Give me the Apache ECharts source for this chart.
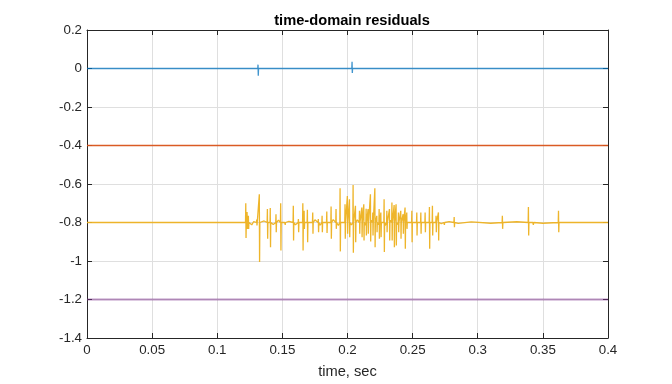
<!DOCTYPE html>
<html>
<head>
<meta charset="utf-8">
<script src="https://cdn.jsdelivr.net/npm/echarts@6/dist/echarts.min.js"></script>
<style>html,body{margin:0;padding:0;background:#fff}#c{width:672px;height:384px}</style>
</head>
<body>
<div id="c"></div>
<script>
// ---- data ----
var xTicks = [0, 0.05, 0.1, 0.15, 0.2, 0.25, 0.3, 0.35, 0.4];
var yTicks = [-1.4, -1.2, -1, -0.8, -0.6, -0.4, -0.2, 0, 0.2];
var offsets = [0, -0.4, -0.8, -1.2]; // baseline of each residual trace

// blue trace spikes (time, high, low)
var blueT  = [0.1313, 0.2035];
var blueHi = [0.020, 0.035];
var blueLo = [-0.037, -0.023];

// yellow trace spikes (time, high, low)
var yelT = [0.1219,0.1229,0.1239,0.1303,0.1323,0.1385,0.1407,0.1451,0.1487,0.1520,
            0.1584,0.1623,0.1657,0.1667,0.1692,0.1733,0.1776,0.1805,0.1841,0.1874,
            0.1912,0.1943,0.1981,0.1999,0.2015,0.2043,0.2061,0.2092,0.2110,0.2125,
            0.2143,0.2158,0.2176,0.2194,0.2210,0.2225,0.2243,0.2256,0.2281,0.2302,
            0.2322,0.2341,0.2358,0.2373,0.2391,0.2409,0.2427,0.2442,0.2455,0.2494,
            0.2532,0.2563,0.2596,0.2629,0.2652,0.2680,0.2698,0.2742,0.2819,0.3189,
            0.3389,0.3425,0.3620];
var yelHi = [-0.700,-0.746,-0.765,-0.785,-0.653,-0.730,-0.725,-0.757,-0.700,-0.790,
             -0.713,-0.782,-0.700,-0.739,-0.734,-0.748,-0.782,-0.765,-0.743,-0.717,
             -0.730,-0.622,-0.705,-0.662,-0.679,-0.605,-0.713,-0.739,-0.722,-0.705,
             -0.728,-0.730,-0.653,-0.748,-0.622,-0.765,-0.730,-0.748,-0.679,-0.739,
             -0.730,-0.696,-0.709,-0.705,-0.748,-0.739,-0.757,-0.722,-0.748,-0.739,
             -0.748,-0.748,-0.748,-0.720,-0.713,-0.765,-0.748,-0.790,-0.772,-0.765,
             -0.720,-0.790,-0.739];
var yelLo = [-0.881,-0.833,-0.833,-0.815,-1.005,-0.885,-0.928,-0.851,-0.945,-0.812,
             -0.893,-0.851,-0.945,-0.833,-0.902,-0.859,-0.851,-0.851,-0.854,-0.885,
             -0.833,-0.950,-0.885,-0.859,-0.876,-0.957,-0.902,-0.859,-0.876,-0.893,
             -0.868,-0.859,-0.899,-0.868,-0.928,-0.851,-0.885,-0.876,-0.953,-0.851,
             -0.893,-0.893,-0.928,-0.919,-0.851,-0.885,-0.859,-0.936,-0.833,-0.902,
             -0.868,-0.859,-0.851,-0.936,-0.868,-0.851,-0.893,-0.812,-0.825,-0.833,
             -0.868,-0.812,-0.851];
// small background wiggles of the yellow trace (time, value)
var yelNoiseT = [0.1250,0.1265,0.1280,0.1340,0.1360,0.1430,0.1470,0.1500,0.1550,0.1600,
                 0.1640,0.1710,0.1750,0.1790,0.1820,0.1860,0.1890,0.1930,0.1960,0.2030,
                 0.2075,0.2135,0.2185,0.2235,0.2270,0.2290,0.2330,0.2380,0.2420,0.2470,
                 0.2510,0.2550,0.2580,0.2610,0.2665,0.2720,0.2780,0.2850,0.2950,0.3100,
                 0.3300,0.3500];
var yelNoiseV = [-0.790,-0.812,-0.795,-0.808,-0.792,-0.810,-0.788,-0.806,-0.794,-0.812,
                 -0.790,-0.808,-0.786,-0.814,-0.790,-0.810,-0.785,-0.815,-0.790,-0.812,
                 -0.786,-0.814,-0.788,-0.812,-0.790,-0.815,-0.788,-0.812,-0.790,-0.810,
                 -0.792,-0.808,-0.792,-0.810,-0.794,-0.806,-0.796,-0.805,-0.797,-0.804,
                 -0.796,-0.804];

// ---- build series ----
function trace(base, ts, his, los, nt, nv) {
  var d = [[0, base], [0.4, base]];
  for (var i = 0; i < ts.length; i++) {
    d.push([ts[i] - 0.0002, base]);
    d.push([ts[i], his[i]]);
    d.push([ts[i] + 0.0002, los[i]]);
    d.push([ts[i] + 0.0004, base]);
  }
  for (var j = 0; j < (nt || []).length; j++) d.push([nt[j], nv[j]]);
  d.sort(function (a, b) { return a[0] - b[0]; });
  return d;
}
var colors = ['#0072BD', '#D95319', '#EDB120', '#7E2F8E'];
var widths = [1.3, 1.3, 1.3, 2];
var opac = [0.75, 0.95, 0.95, 0.5];
var dataSets = [
  trace(offsets[0], blueT, blueHi, blueLo),
  trace(offsets[1], [], [], []),
  trace(offsets[2], yelT, yelHi, yelLo, yelNoiseT, yelNoiseV),
  trace(offsets[3], [], [], [])
];
var fmt = function (v) { return String(+(+v).toFixed(2)); };
var txt = '#262626';
var font = 'Liberation Sans, Arial, sans-serif';

var chart = echarts.init(document.getElementById('c'), null, {renderer: 'canvas'});
var axisCommon = {
  type: 'value',
  axisLine: {show: true, onZero: false, lineStyle: {color: txt, width: 1}},
  axisTick: {show: true, inside: true, length: 5, lineStyle: {color: txt}},
  splitLine: {show: false},
  axisLabel: {show: false}
};
chart.setOption({
  animation: false,
  title: {
    text: 'time-domain residuals', left: 347, top: 8, textAlign: 'center',
    textStyle: {fontFamily: font, fontSize: 14.67, fontWeight: 'bold', color: '#000'}
  },
  grid: {left: 87, right: 64, top: 30, bottom: 43, show: false},
  xAxis: [
    Object.assign({}, axisCommon, {
      min: xTicks[0], max: xTicks[xTicks.length - 1], interval: 0.05,
      position: 'bottom',
      name: 'time, sec', nameLocation: 'middle', nameGap: 26,
      nameTextStyle: {fontFamily: font, fontSize: 14.67, color: txt},
      axisLabel: {show: true, formatter: fmt, margin: 6, fontFamily: font, fontSize: 13.33, color: txt},
      splitLine: {show: true, lineStyle: {color: '#dfdfdf', width: 1}}
    }),
    Object.assign({}, axisCommon, {
      min: xTicks[0], max: xTicks[xTicks.length - 1], interval: 0.05, position: 'top'
    })
  ],
  yAxis: [
    Object.assign({}, axisCommon, {
      min: yTicks[0], max: yTicks[yTicks.length - 1], interval: 0.2,
      position: 'left',
      axisLabel: {show: true, formatter: fmt, margin: 5, fontFamily: font, fontSize: 13.33, color: txt},
      splitLine: {show: true, lineStyle: {color: '#dfdfdf', width: 1}}
    }),
    Object.assign({}, axisCommon, {
      min: yTicks[0], max: yTicks[yTicks.length - 1], interval: 0.2, position: 'right'
    })
  ],
  series: dataSets.map(function (d, i) {
    return {
      type: 'line', data: d, xAxisIndex: 0, yAxisIndex: 0,
      showSymbol: false, symbol: 'none',
      lineStyle: {color: colors[i], width: widths[i], opacity: opac[i]}
    };
  })
});
</script>
</body>
</html>
